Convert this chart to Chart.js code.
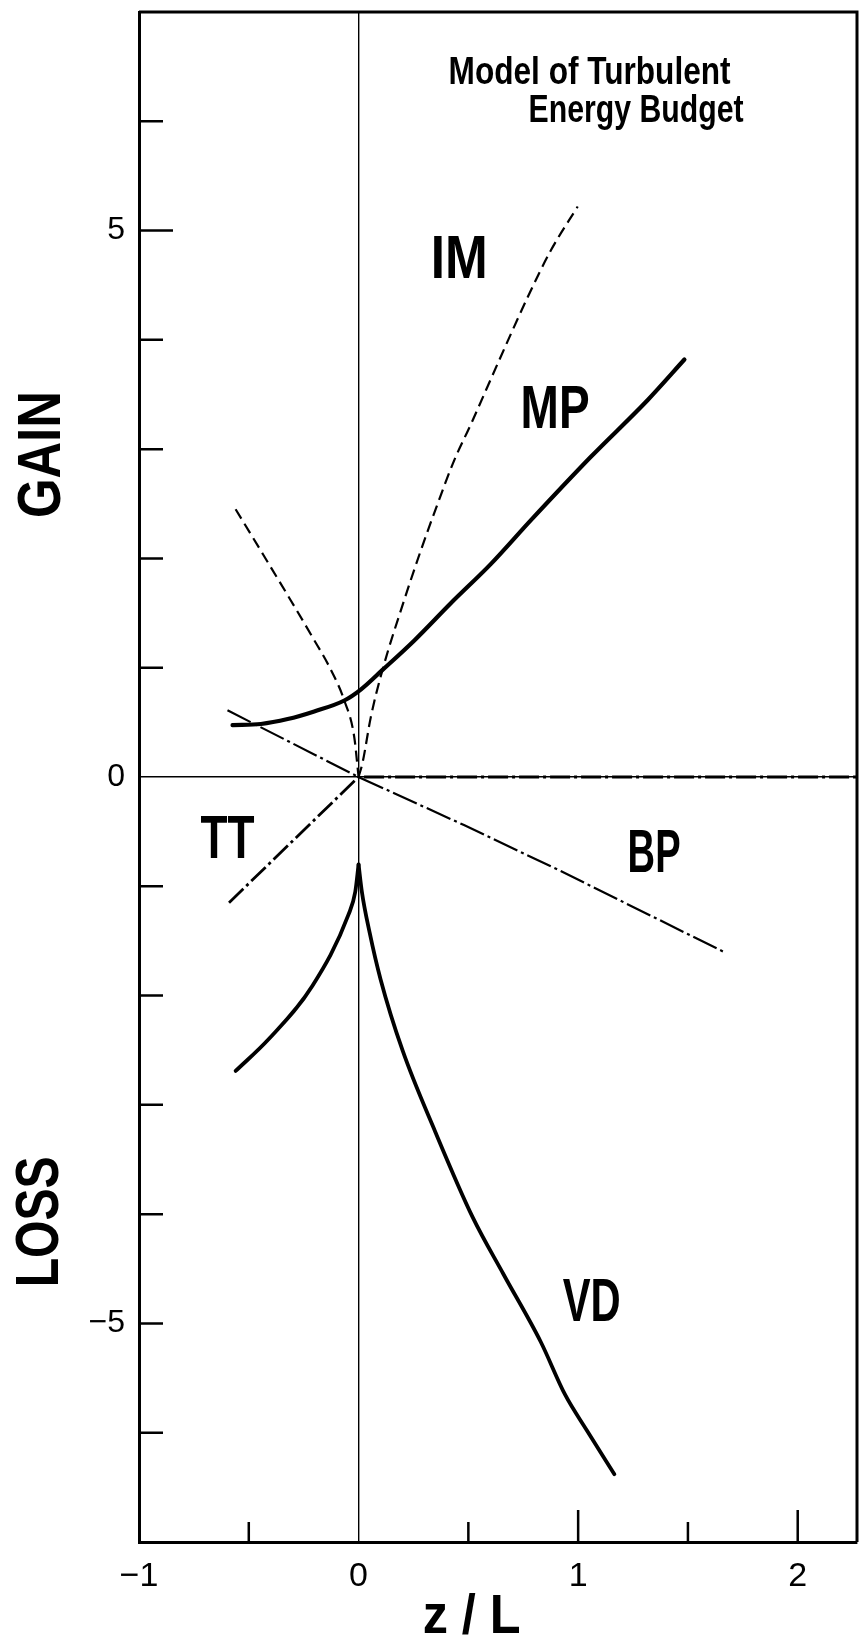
<!DOCTYPE html>
<html>
<head>
<meta charset="utf-8">
<script src="https://cdn.jsdelivr.net/npm/chart.js@4.4.1/dist/chart.umd.min.js"></script>
<style>
  body { margin: 0; background: #fff; }
  #wrap { width: 859px; height: 1640px; }
</style>
</head>
<body>
<div id="wrap"><canvas id="budget"></canvas></div>
<script>
// terms of the energy budget vs z/L
var imLeftZ = [-0.56, -0.445, -0.31, -0.21, -0.126, -0.065, -0.02, 0];
var imLeftV = [2.45, 2.07, 1.62, 1.28, 0.98, 0.70, 0.37, 0];
var imZ = [0, 0.018, 0.056, 0.109, 0.208, 0.283, 0.36, 0.436, 0.512, 0.633, 0.77, 0.876, 0.998];
var imV = [0, 0.13, 0.55, 0.98, 1.62, 2.07, 2.5, 2.9, 3.23, 3.78, 4.39, 4.82, 5.22];
var mpZ = [-0.574, -0.445, -0.323, -0.202, -0.065, 0.01, 0.109, 0.254, 0.42, 0.603, 0.785, 1.058, 1.317, 1.484];
var mpV = [0.475, 0.485, 0.53, 0.60, 0.70, 0.80, 0.98, 1.25, 1.59, 1.95, 2.35, 2.93, 3.45, 3.82];
var bpZ = [-0.597, 0, 0.48, 0.91, 1.673];
var bpV = [0.61, 0, -0.44, -0.85, -1.61];
var ttZ = [-0.59, 0, 2.27];
var ttV = [-1.15, 0, 0];
var vdLeftZ = [-0.56, -0.41, -0.21, -0.046, -0.015, 0];
var vdLeftV = [-2.69, -2.4, -1.91, -1.26, -1.05, -0.8];
var vdZ = [0, 0.015, 0.05, 0.1, 0.2, 0.35, 0.52, 0.66, 0.83, 0.94, 1.04, 1.165];
var vdV = [-0.8, -1.05, -1.42, -1.85, -2.5, -3.25, -4.03, -4.55, -5.17, -5.65, -5.98, -6.38];

var yTickLabels = [-5, 0, 5];
var xTickLabels = [-1, 0, 1, 2];

var face = "'Liberation Sans', Arial, sans-serif";

// curve names: centre z, baseline v (data units), drawn width in px
var notes = [
  { text: 'IM', z: 0.458, v: 4.57, w: 57 },
  { text: 'MP', z: 0.895, v: 3.19, w: 69 },
  { text: 'TT', z: -0.597, v: -0.74, w: 54 },
  { text: 'BP', z: 1.346, v: -0.87, w: 53 },
  { text: 'VD', z: 1.062, v: -4.98, w: 58 }
];

function pts(xs, ys) {
  return xs.map(function (x, i) { return { x: x, y: ys[i] }; });
}

function fmt(v) {
  return v < 0 ? '\u2212' + Math.abs(v) : String(v);
}

function line(data, width, dash, smooth) {
  return {
    data: data,
    borderColor: '#000',
    borderWidth: width,
    borderDash: dash,
    borderCapStyle: dash.length ? 'butt' : 'round',
    showLine: true,
    pointRadius: 0,
    fill: false,
    tension: 0,
    cubicInterpolationMode: smooth ? 'monotone' : 'default'
  };
}

// draw text squeezed to a given width, like the condensed lettering
function fitText(ctx, text, x, y, width, align, angle) {
  var k = width / ctx.measureText(text).width;
  ctx.save();
  ctx.translate(x, y);
  if (angle) ctx.rotate(angle);
  ctx.scale(k, 1);
  ctx.textAlign = align;
  ctx.fillText(text, 0, 0);
  ctx.restore();
}

var decor = {
  id: 'decor',
  afterDatasetsDraw: function (chart) {
    var ctx = chart.ctx, a = chart.chartArea;
    var xs = chart.scales.x, ys = chart.scales.y;
    ctx.save();
    ctx.strokeStyle = '#000';
    ctx.fillStyle = '#000';

    // top and right frame
    ctx.lineWidth = 3;
    ctx.beginPath();
    ctx.moveTo(a.left, a.top);
    ctx.lineTo(a.right, a.top);
    ctx.lineTo(a.right, a.bottom);
    ctx.stroke();

    // tick marks point inward
    ctx.lineWidth = 2.5;
    ctx.beginPath();
    ys.ticks.forEach(function (t) {
      if (t.value === 0 || t.value <= ys.min || t.value >= ys.max) return;
      var y = ys.getPixelForValue(t.value);
      ctx.moveTo(a.left, y);
      ctx.lineTo(a.left + (t.value === 5 ? 34 : 24), y);
    });
    xs.ticks.forEach(function (t) {
      if (t.value === 0 || t.value <= xs.min || t.value >= xs.max) return;
      var x = xs.getPixelForValue(t.value);
      ctx.moveTo(x, a.bottom);
      ctx.lineTo(x, a.bottom - (Number.isInteger(t.value) ? 32 : 20));
    });
    ctx.stroke();

    ctx.textBaseline = 'alphabetic';

    // curve names
    ctx.font = 'bold 61px ' + face;
    notes.forEach(function (n) {
      fitText(ctx, n.text, xs.getPixelForValue(n.z), ys.getPixelForValue(n.v), n.w, 'center');
    });

    // title block
    ctx.font = 'bold 38px ' + face;
    fitText(ctx, 'Model of Turbulent', xs.getPixelForValue(0.41), ys.getPixelForValue(6.34), 282, 'left');
    fitText(ctx, 'Energy Budget', xs.getPixelForValue(0.774), ys.getPixelForValue(5.99), 215, 'left');

    // x axis title
    ctx.font = 'bold 56px ' + face;
    fitText(ctx, 'z / L', xs.getPixelForValue(0.515), a.bottom + 91, 98, 'center');

    // GAIN / LOSS along the y axis
    ctx.font = 'bold 61px ' + face;
    ctx.textBaseline = 'middle';
    fitText(ctx, 'GAIN', 43, ys.getPixelForValue(2.95), 127, 'center', -Math.PI / 2);
    fitText(ctx, 'LOSS', 41, ys.getPixelForValue(-4.07), 131, 'center', -Math.PI / 2);

    ctx.restore();
  }
};

Chart.defaults.font.family = face;
Chart.defaults.color = '#000';

var ctx = document.getElementById('budget').getContext('2d');

var budgetChart = new Chart(ctx, {
  type: 'scatter',
  data: {
    datasets: [
      line(pts(imLeftZ, imLeftV), 2.2, [11, 6], true),
      line(pts(imZ, imV), 2.2, [11, 6], true),
      line(pts(mpZ, mpV), 4.2, [], true),
      line(pts(bpZ, bpV), 2.2, [26, 4, 3, 4], false),
      line(pts(ttZ, ttV), 2.8, [20, 4, 3, 4], false),
      line(pts(vdLeftZ, vdLeftV), 3.8, [], true),
      line(pts(vdZ, vdV), 3.8, [], true)
    ]
  },
  options: {
    responsive: true,
    maintainAspectRatio: false,
    animation: false,
    layout: { autoPadding: false, padding: { top: 12, right: 2, left: 0, bottom: 0 } },
    plugins: {
      legend: { display: false },
      tooltip: { enabled: false }
    },
    scales: {
      x: {
        type: 'linear',
        min: -1,
        max: 2.27,
        afterFit: function (s) {
          s.height = 98;
          s.paddingLeft = 0;
          s.paddingRight = 0;
        },
        grid: {
          drawTicks: false,
          lineWidth: 1.4,
          color: function (c) { return c.tick && c.tick.value === 0 ? '#000' : 'rgba(0,0,0,0)'; }
        },
        border: { color: '#000', width: 3 },
        ticks: {
          stepSize: 0.5,
          includeBounds: false,
          autoSkip: false,
          maxRotation: 0,
          padding: 14,
          font: { size: 34 },
          callback: function (v) { return xTickLabels.indexOf(v) >= 0 ? fmt(v) : ''; }
        }
      },
      y: {
        type: 'linear',
        min: -7,
        max: 7,
        afterFit: function (s) {
          s.width = 139;
          s.paddingTop = 0;
          s.paddingBottom = 0;
        },
        grid: {
          drawTicks: false,
          lineWidth: 1.4,
          color: function (c) { return c.tick && c.tick.value === 0 ? '#000' : 'rgba(0,0,0,0)'; }
        },
        border: { color: '#000', width: 3 },
        ticks: {
          stepSize: 1,
          autoSkip: false,
          padding: 14,
          font: { size: 32 },
          callback: function (v) { return yTickLabels.indexOf(v) >= 0 ? fmt(v) : ''; }
        }
      }
    }
  },
  plugins: [decor]
});
</script>
</body>
</html>
